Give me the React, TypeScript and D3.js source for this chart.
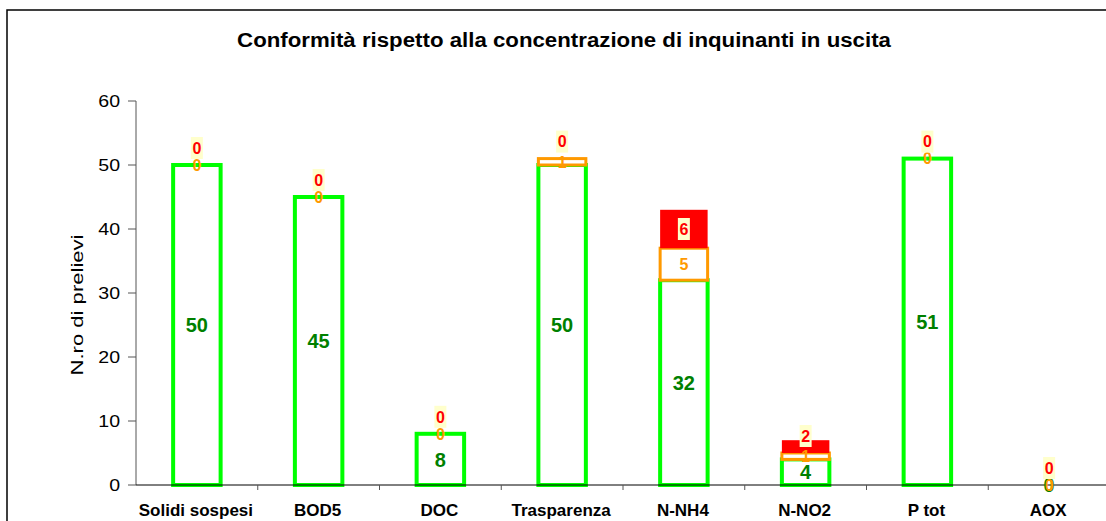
import React, { useEffect, useRef } from "react";
import * as d3 from "d3";

// categories and counts per conformity class
const categories = ["Solidi sospesi", "BOD5", "DOC", "Trasparenza", "N-NH4", "N-NO2", "P tot", "AOX"];
const conformi = [50, 45, 8, 50, 32, 4, 51, 0];
const parziali = [0, 0, 0, 1, 5, 1, 0, 0];
const nonConformi = [0, 0, 0, 0, 6, 2, 0, 0];
const yTicks = [0, 10, 20, 30, 40, 50, 60];

const W = 1106;
const H = 521;

const App = () => {
    const svgRef = useRef(null);

    useEffect(() => {
        const svg = d3.select(svgRef.current);
        svg.selectAll("*").remove();

        const font = "'Liberation Sans', Arial, sans-serif";
        const margin = { left: 136, right: -4, top: 101, bottom: 36 };

        const x = d3.scaleBand().domain(categories).range([margin.left, W - margin.right]);
        const y = d3.scaleLinear().domain([0, 60]).range([H - margin.bottom, margin.top]);

        const rows = categories.map((c, i) => ({ cat: c, g: conformi[i], o: parziali[i], r: nonConformi[i] }));
        const series = d3.stack().keys(["g", "o", "r"])(rows);

        // outer frame
        svg.append("rect")
            .attr("x", 7).attr("y", 10)
            .attr("width", W + 20).attr("height", H + 20)
            .attr("fill", "none").attr("stroke", "#000").attr("stroke-width", 1.5);

        // title (slightly stretched like the original export)
        svg.append("text")
            .attr("transform", "translate(564, 47) scale(1.06, 1)")
            .attr("text-anchor", "middle")
            .style("font-family", font).style("font-weight", "bold").style("font-size", "21px")
            .text("Conformità rispetto alla concentrazione di inquinanti in uscita");

        // y axis
        const yAxis = svg.append("g");
        yAxis.append("line")
            .attr("x1", margin.left).attr("x2", margin.left)
            .attr("y1", y(60)).attr("y2", y(0))
            .attr("stroke", "#555");
        yTicks.forEach(t => {
            yAxis.append("line")
                .attr("x1", margin.left - 8).attr("x2", margin.left)
                .attr("y1", y(t)).attr("y2", y(t))
                .attr("stroke", "#555");
            yAxis.append("text")
                .attr("transform", `translate(${margin.left - 16}, ${y(t)}) scale(1.15, 1)`)
                .attr("dy", "0.35em").attr("text-anchor", "end")
                .style("font-family", font).style("font-size", "17px")
                .text(t);
        });
        svg.append("text")
            .attr("transform", `translate(83, 305) rotate(-90) scale(1.38, 1)`)
            .attr("text-anchor", "middle")
            .style("font-family", font).style("font-size", "16px")
            .text("N.ro di prelievi");

        // bars
        const bw = x.bandwidth() * 0.39;
        const styles = {
            g: { fill: "#fff", stroke: "#00ff00", sw: 4 },
            o: { fill: "#fff", stroke: "#ff9900", sw: 3 },
            r: { fill: "#ff0000", stroke: "none", sw: 0 },
        };
        series.forEach(s => {
            const st = styles[s.key];
            svg.append("g").selectAll("rect")
                .data(s.filter(d => d[1] > d[0]))
                .join("rect")
                .attr("x", d => x(d.data.cat) + (x.bandwidth() - bw) / 2)
                .attr("y", d => y(d[1]))
                .attr("width", bw)
                .attr("height", d => y(d[0]) - y(d[1]))
                .attr("fill", st.fill)
                .attr("stroke", st.stroke)
                .attr("stroke-width", st.sw);
        });

        // x axis
        svg.append("line")
            .attr("x1", margin.left).attr("x2", W)
            .attr("y1", y(0)).attr("y2", y(0))
            .attr("stroke", "#000");
        categories.forEach((c, i) => {
            if (i > 0) {
                svg.append("line")
                    .attr("x1", x(c)).attr("x2", x(c))
                    .attr("y1", y(0)).attr("y2", y(0) + 5)
                    .attr("stroke", "#555");
            }
            svg.append("text")
                .attr("x", x(c) + x.bandwidth() / 2 - 1).attr("y", 516)
                .attr("text-anchor", "middle")
                .style("font-family", font).style("font-weight", "bold").style("font-size", "17px")
                .text(c);
        });

        // labels
        const labelColors = { g: "#008000", o: "#ff9900", r: "#ff0000" };
        series.forEach(s => {
            s.forEach(d => {
                const cx = x(d.data.cat) + x.bandwidth() / 2;
                const top = y(d[1]);
                const bottom = y(d[0]);
                const h = bottom - top;
                let cy = (top + bottom) / 2;
                if (s.key === "r" && h < 20) cy = top - (17 - h);
                const v = d[1] - d[0];
                const size = s.key === "g" ? 20 : 16;
                if (s.key === "r") {
                    svg.append("rect")
                        .attr("x", cx - 6).attr("y", cy - 11)
                        .attr("width", 12).attr("height", 22)
                        .attr("fill", "#ffffcc");
                }
                svg.append("text")
                    .attr("x", cx).attr("y", cy)
                    .attr("dy", "0.36em").attr("text-anchor", "middle")
                    .attr("fill", labelColors[s.key])
                    .style("font-family", font).style("font-weight", "bold").style("font-size", `${size}px`)
                    .text(v);
            });
        });
    }, []);

    return (
        <svg
            ref={svgRef}
            width={W}
            height={H}
            style={{ position: "absolute", left: 0, top: 0, background: "#fff" }}
        />
    );
};

export default App;
